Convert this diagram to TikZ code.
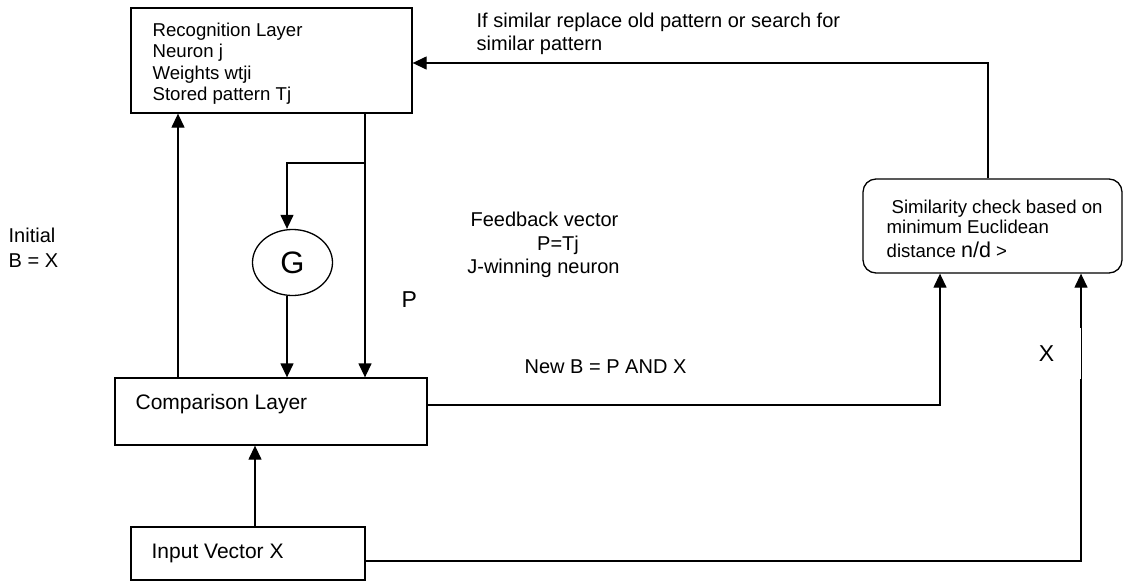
\documentclass[tikz,border=0pt]{standalone}
\usepackage{fontspec}
\setmainfont{Liberation Sans}
\usetikzlibrary{arrows.meta,shapes.geometric}
\begin{document}
\begin{tikzpicture}[x=1pt,y=-1pt,line width=1.3pt,
  box/.style={draw,line width=1.3pt,inner sep=0pt,rectangle},
  arr/.style={-{Triangle[length=14pt,width=13pt]}},
  txt/.style={anchor=base west,inner sep=0pt},
  small/.style={font=\fontsize{18.6}{21}\selectfont},
  mid/.style={font=\fontsize{20}{24}\selectfont},
  big/.style={font=\fontsize{21}{25}\selectfont},
  huge/.style={font=\fontsize{23}{27}\selectfont}]
\useasboundingbox (0,0) rectangle (1124,581);

% blocks
\node[box,minimum width=281pt,minimum height=105pt] (rec) at (271.5,60.5) {};
\node[box,minimum width=312pt,minimum height=67pt] (comp) at (271,411.5) {};
\node[box,minimum width=234pt,minimum height=53pt] (inp) at (248,553.5) {};
\node[box,rounded corners=13pt,minimum width=259pt,minimum height=94pt] (sim) at (992.5,226) {};
\node[draw,ellipse,line width=1.3pt,inner sep=0pt,minimum width=80pt,minimum height=66pt,
      font=\fontsize{31}{35}\selectfont] (g) at (292.5,262.5) {G};

% block texts
\node[txt,small] (rec1) at (152,36) {Recognition Layer};
\node[txt,small] (rec2) at (152,57.5) {Neuron j};
\node[txt,small] (rec3) at (152,79) {Weights wtji};
\node[txt,small] (rec4) at (152,100.5) {Stored pattern Tj};
\node[txt,big] (comptxt) at (135,409) {Comparison Layer};
\node[txt,big] (inptxt) at (151,558) {Input Vector X};
\node[txt,small] (sim1) at (891,213) {Similarity check based on};
\node[txt,small] (sim2) at (886,233) {minimum Euclidean};
\node[txt,small] (sim3) at (886,257) {distance {\fontsize{21.5}{25}\selectfont n/d} >};

% free labels
\node[txt,mid] (top1) at (476,27) {If similar replace old pattern or search for};
\node[txt,mid] (top2) at (476,50) {similar pattern};
\node[txt,mid] (init1) at (8,242) {Initial};
\node[txt,mid] (init2) at (8,267) {B = X};
\node[anchor=base,inner sep=0pt,mid] (fb1) at (544.5,226) {Feedback vector};
\node[anchor=base,inner sep=0pt,mid] (fb2) at (558,250) {P=Tj};
\node[anchor=base,inner sep=0pt,mid] (fb3) at (543.5,273) {J-winning neuron};
\node[txt,huge] (plab) at (401,307) {P};
\node[txt,mid] (newb) at (524,373) {New B = P AND X};

% routing points
\coordinate (xa) at (178,0);
\coordinate (xp) at (365,0);
\coordinate (xg) at (287,0);
\coordinate (xi) at (255,0);
\coordinate (br) at (365,163);
\coordinate (c1) at (940,405);
\coordinate (c2) at (1081,561);
\coordinate (c3) at (988,63);

% connectors
\draw[arr] (comp.north -| xa) -- (rec.south -| xa);
\draw[arr] (rec.south -| xp) -- (comp.north -| xp);
\draw[arr] (br) -- (br -| xg) -- (g.north -| xg);
\draw[arr] (g.south -| xg) -- (comp.north -| xg);
\draw[arr] (inp.north -| xi) -- (comp.south -| xi);
\draw[arr] (comp.east |- c1) -- (c1) -- (sim.south -| c1);
\draw[arr] (inp.east |- c2) -- (c2) -- (sim.south -| c2);
\draw[arr] (sim.north -| c3) -- (c3) -- (rec.east |- c3);

% label on the input line
\node[fill=white,inner sep=0pt,minimum width=68pt,minimum height=51pt,huge] (xlab) at (1046.5,353.5) {X};
\end{tikzpicture}
\end{document}
